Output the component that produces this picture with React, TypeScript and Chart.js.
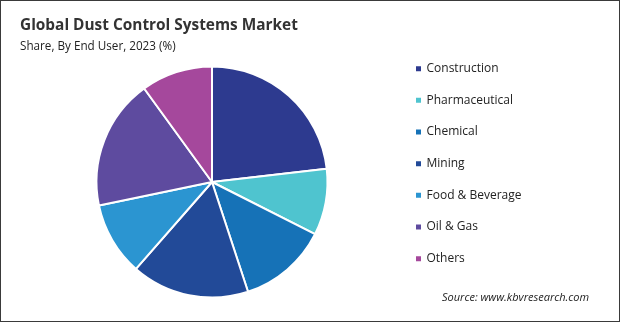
import React, { useEffect, useRef } from "react";
import { Chart, registerables } from "chart.js";

Chart.register(...registerables);

const categories = ["Construction", "Pharmaceutical", "Chemical", "Mining", "Food & Beverage", "Oil & Gas", "Others"];
const shares = [23.2, 9.3, 12.5, 16.5, 10.3, 18.3, 10.0];
const colors = ["#2d3a8f", "#4fc4cf", "#1672b7", "#224a98", "#2b95d1", "#5e4b9f", "#a5489c"];

const titleText = "Global Dust Control Systems Market";
const subtitleText = "Share, By End User, 2023 (%)";
const sourceText = "Source: www.kbvresearch.com";

export default function App() {
  const ref = useRef<HTMLCanvasElement | null>(null);

  useEffect(() => {
    document.body.style.margin = "0";
    if (!ref.current) return;
    const chart = new Chart(ref.current, {
      type: "pie",
      data: {
        labels: categories,
        datasets: [
          {
            data: shares,
            backgroundColor: colors,
            borderColor: "#ffffff",
            borderWidth: 2,
            radius: 115.5,
          } as any,
        ],
      },
      options: {
        animation: false,
        responsive: false,
        maintainAspectRatio: false,
        layout: { padding: { left: 26.17, top: 42, bottom: 0, right: 91.17 } },
        plugins: {
          legend: {
            display: true,
            position: "right",
            align: "start",
            maxWidth: 131,
            labels: {
              usePointStyle: true,
              pointStyle: "rect",
              boxWidth: 4,
              boxHeight: 7,
              padding: 19.67,
              color: "#222222",
              font: { family: "'Open Sans', sans-serif", size: 12 },
            },
          } as any,
          tooltip: { enabled: false },
        },
      },
    });
    return () => chart.destroy();
  }, []);

  return (
    <div
      style={{
        position: "fixed",
        left: 0,
        top: 0,
        width: 620,
        height: 322,
        boxSizing: "border-box",
        border: "1px solid #3a3a3a",
        background: "#ffffff",
        overflow: "hidden",
      }}
    >
      <canvas ref={ref} width={618} height={320} style={{ position: "absolute", left: 0, top: 0, width: 618, height: 320 }} />
      <div
        style={{
          position: "absolute",
          left: 19,
          top: 14,
          fontFamily: "'Open Sans', sans-serif",
          fontWeight: 700,
          fontSize: 15.4,
          lineHeight: "20px",
          color: "#333333",
          whiteSpace: "nowrap",
        }}
      >
        {titleText}
      </div>
      <div
        style={{
          position: "absolute",
          left: 19,
          top: 37,
          fontFamily: "'Open Sans', sans-serif",
          fontSize: 11.7,
          lineHeight: "15px",
          color: "#222222",
          whiteSpace: "nowrap",
        }}
      >
        {subtitleText}
      </div>
      <div
        style={{
          position: "absolute",
          left: 441,
          top: 288,
          fontFamily: "'Open Sans', sans-serif",
          fontStyle: "italic",
          fontSize: 11,
          lineHeight: "15px",
          color: "#222222",
          whiteSpace: "nowrap",
        }}
      >
        {sourceText}
      </div>
    </div>
  );
}
